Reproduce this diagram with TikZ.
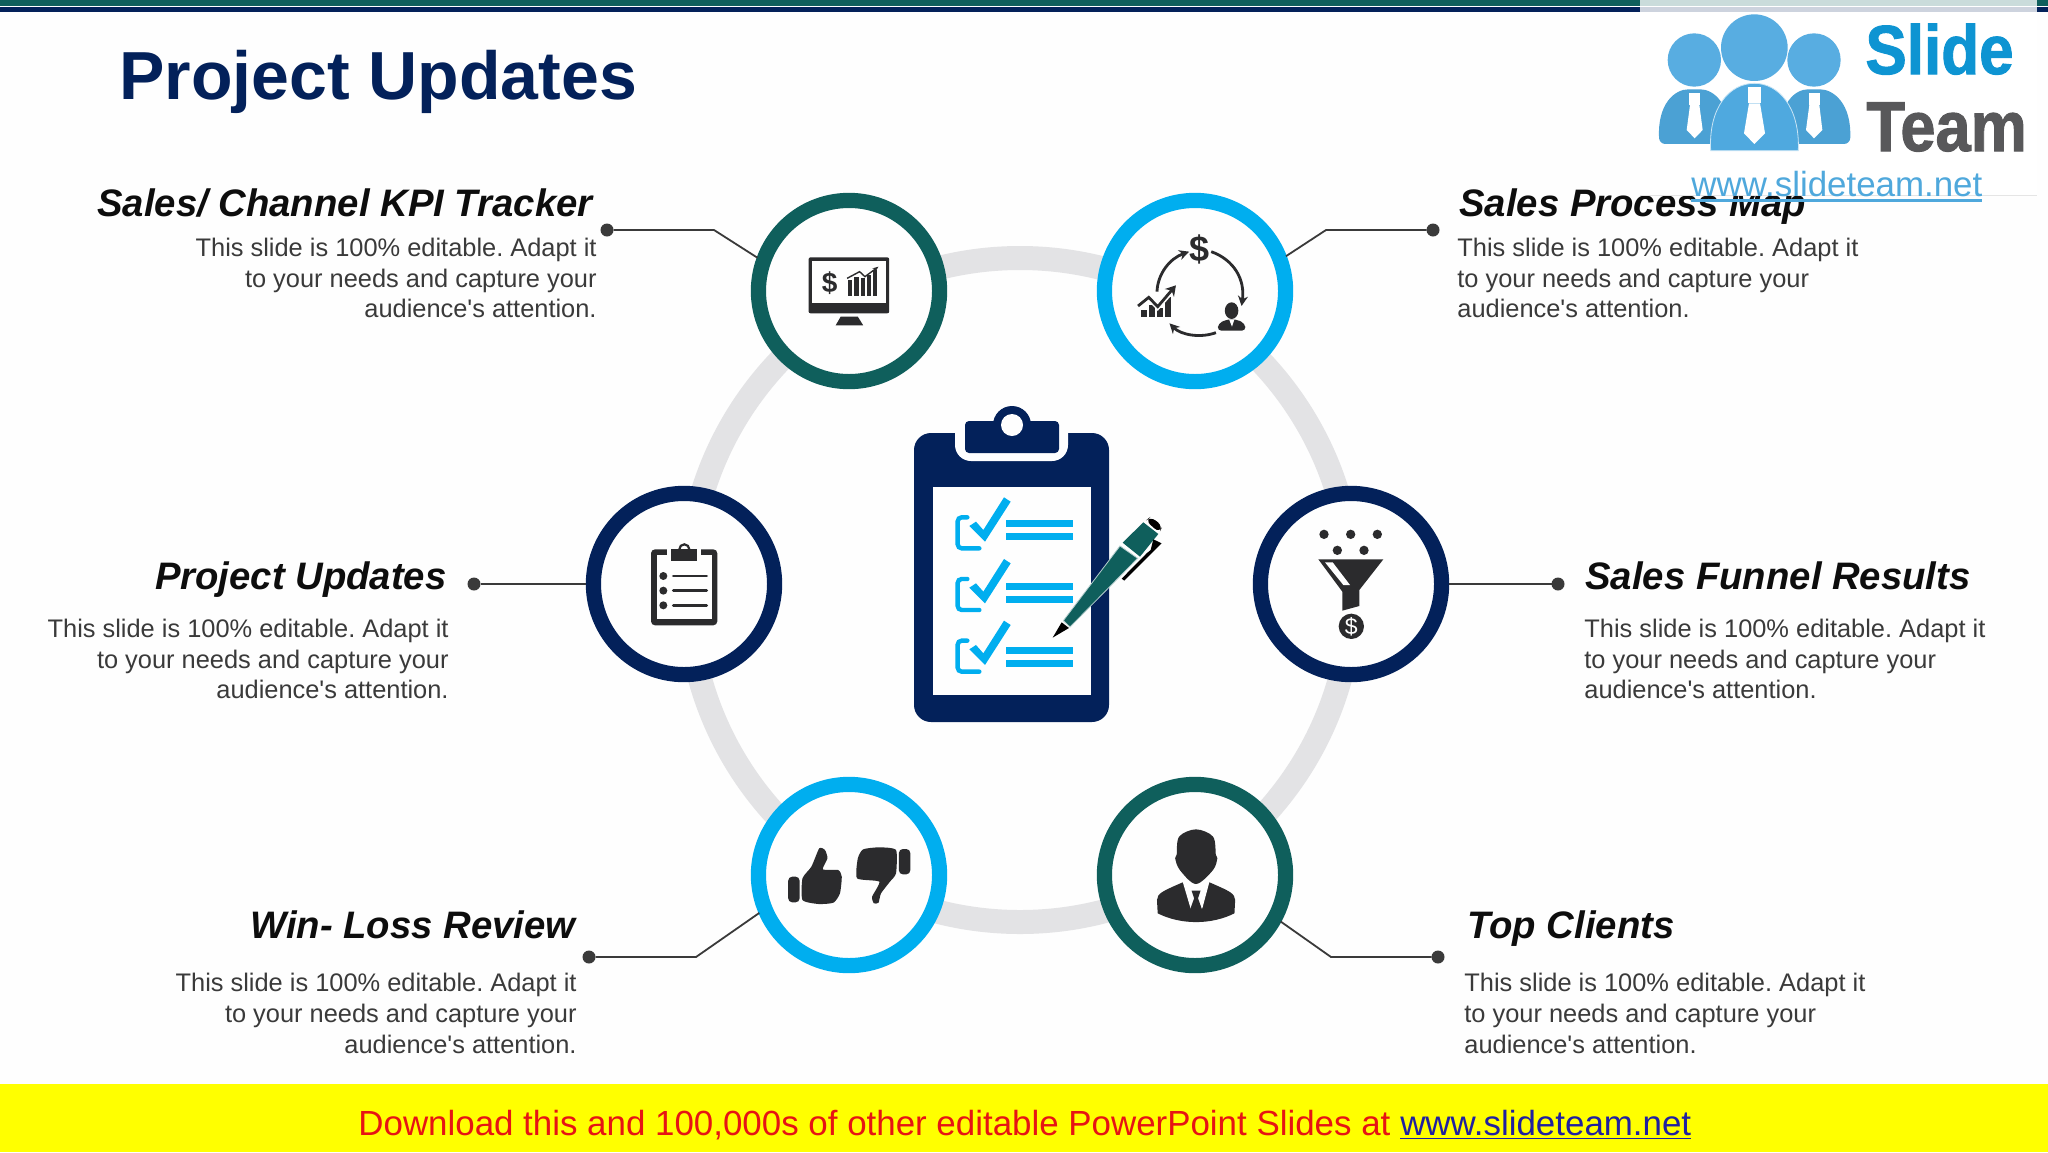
\documentclass[tikz,border=0pt]{standalone}
\usepackage{graphicx}
\usepackage{fontspec}
\setmainfont{Liberation Sans}
\newfontfamily\bodyf{Liberation Sans}
\usetikzlibrary{arrows.meta}
\definecolor{bgc}{HTML}{FEFEFE}
\definecolor{navy}{HTML}{03215A}
\definecolor{teal}{HTML}{0F5F5C}
\definecolor{cyan}{HTML}{00AEEF}
\definecolor{ringc}{HTML}{E3E3E5}
\definecolor{icon}{HTML}{2B2B2D}
\definecolor{bodyc}{HTML}{3A3A3A}
\definecolor{lgb}{HTML}{4FA9DF}
\definecolor{lgt}{HTML}{4FA8DC}
\definecolor{banner}{HTML}{FFFF00}
\tikzset{
  ringnode/.style={circle,draw=#1,fill=bgc,line width=7.6pt,minimum size=90.6pt,inner sep=0pt,outer sep=0pt},
  dotnode/.style={circle,fill=bodyc,minimum size=6.5pt,inner sep=0pt,outer sep=0pt},
  leader/.style={draw=bodyc,line width=0.9pt,shorten >=3.5pt},
  headr/.style={font=\fontsize{19.15}{23}\bfseries\itshape\selectfont,text=black!95,inner sep=0pt,anchor=base east},
  headl/.style={font=\fontsize{19.15}{23}\bfseries\itshape\selectfont,text=black!95,inner sep=0pt,anchor=base west},
  bodyr/.style={font=\bodyf\fontsize{12.7}{15.45}\selectfont\frenchspacing,text=bodyc,inner sep=0pt,align=right,anchor=east},
  bodyl/.style={font=\bodyf\fontsize{12.7}{15.45}\selectfont\frenchspacing,text=bodyc,inner sep=0pt,align=left,anchor=west},
  wide/.style={shift={#1},xscale=0.357,yscale=0.3333},
  even/.style={shift={#1},scale=0.3333},
}
\begin{document}
\begin{tikzpicture}[x=0.5pt,y=-0.5pt]
\useasboundingbox (0,0) rectangle (2048,1152);
\fill[bgc] (0,0) rectangle (2048,1152);
% top bar
\fill[teal] (0,0) rectangle (2048,6);
\fill[navy] (0,7) rectangle (2048,12);
% yellow band
\fill[banner] (0,1084) rectangle (2048,1152);
\node[anchor=base west,inner sep=0pt,font=\fontsize{17.45}{20}\selectfont\frenchspacing,text={rgb,255:red,230;green,20;blue,20}] (dl) at (358,1135)
  {Download this and 100,000s of other editable PowerPoint Slides at \textcolor[HTML]{2020A0}{\underline{www.slideteam.net}}};
% title
\node[anchor=base west,inner sep=0pt,font=\fontsize{34}{40}\bfseries\selectfont,text=navy] (title) at (119,99.5) {Project Updates};
% big ring
\draw[ringc,line width=12pt] (1020,590) circle (332);
% right/left texts
\node[headr] (h1) at (593,216) {Sales/ Channel KPI Tracker};
\node[bodyr] (b1) at (597,278) {This slide is 100\% editable. Adapt it\\to your needs and capture your\\audience's attention.};
\node[headl] (h2) at (1459,216) {Sales Process Map};
\node[bodyl] (b2) at (1457,278) {This slide is 100\% editable. Adapt it\\to your needs and capture your\\audience's attention.};
\node[headr] (h3) at (447,589) {Project Updates};
\node[bodyr] (b3) at (449,659) {This slide is 100\% editable. Adapt it\\to your needs and capture your\\audience's attention.};
\node[headl] (h4) at (1585,589) {Sales Funnel Results};
\node[bodyl] (b4) at (1584,659) {This slide is 100\% editable. Adapt it\\to your needs and capture your\\audience's attention.};
\node[headr] (h5) at (576,938) {Win- Loss Review};
\node[bodyr] (b5) at (577,1013) {This slide is 100\% editable. Adapt it\\to your needs and capture your\\audience's attention.};
\node[headl] (h6) at (1467,938) {Top Clients};
\node[bodyl] (b6) at (1464,1013) {This slide is 100\% editable. Adapt it\\to your needs and capture your\\audience's attention.};
% circles
\node[ringnode=teal] (tl) at (849,291) {};
\node[ringnode=cyan] (tr) at (1195,291) {};
\node[ringnode=navy] (ml) at (684,584) {};
\node[ringnode=navy] (mr) at (1351,584) {};
\node[ringnode=cyan] (bl) at (849,875) {};
\node[ringnode=teal] (br) at (1195,875) {};
% dots, leaders
\node[dotnode] (d1) at (607,230) {};
\node[dotnode] (d2) at (1433,230) {};
\node[dotnode] (d3) at (474,584) {};
\node[dotnode] (d4) at (1558,584) {};
\node[dotnode] (d5) at (589,957) {};
\node[dotnode] (d6) at (1438,957) {};
\coordinate (e1) at (714,230);
\coordinate (e2) at (1326,230);
\coordinate (e5) at (696,957);
\coordinate (e6) at (1331,957);
\path[leader] (d1) -- (e1) -- (tl.161);
\path[leader] (d2) -- (e2) -- (tr.20);
\path[leader] (d3) -- (ml);
\path[leader] (d4) -- (mr);
\path[leader] (d5) -- (e5) -- (bl.202);
\path[leader] (d6) -- (e6) -- (br.332);
% central clipboard
\fill[navy,rounded corners=8.5pt] (914,433) rectangle (1109,722);
\fill[bgc,rounded corners=8pt] (955,405) rectangle (1068,461);
\fill[navy,rounded corners=2pt] (965,421) rectangle (1059,453);
\fill[navy] (1012,425) circle (19);
\fill[bgc] (1012,425) circle (11);
\fill[bgc] (933,487) rectangle (1091,695);
\begin{scope}[even={(880,390)}]
\foreach \dy/\ly in {0/0,185/189,370/381}{
  \draw[cyan,line width=2.2pt,line cap=round,rounded corners=2pt] (262,382+\dy) -- (233,382+\dy) -- (233,475+\dy) -- (298,475+\dy);
  \fill[cyan] (268,408+\dy) -- (288,395+\dy) -- (310,420+\dy) -- (372,322+\dy) -- (392,335+\dy) -- (315,455+\dy) -- cycle;
  \fill[cyan] (378,390+\ly) rectangle (578,410+\ly);
  \fill[cyan] (378,430+\ly) rectangle (578,450+\ly);
}
\fill[black] (518,743) -- (545,697) -- (567,714) -- cycle;
\draw[bgc!70!teal,line width=0.4pt,fill=teal] (550,692) -- (570,711) -- (773,505) -- (720,468) -- cycle;
\fill[teal] (728,458) -- (780,500) -- (835,432) -- (790,397) -- cycle;
\fill[black,rounded corners=3pt] (797,392) -- (812,380) -- (848,408) -- (838,428) -- cycle;
\fill[black] (820,448) -- (845,460) -- (733,572) -- (725,566) -- (800,490) -- (812,480) -- cycle;
\end{scope}
% icon: monitor
\begin{scope}[wide={(740,180)}]
\fill[icon,rounded corners=1pt] (192,232) rectangle (418,400);
\fill[bgc] (202,243) rectangle (410,370);
\fill[icon] (282,410) -- (330,410) -- (345,436) -- (268,436) -- cycle;
\node[inner sep=0pt,font=\fontsize{14}{16}\bfseries\selectfont,text=icon] (mon) at (251,310) {\$};
\foreach \xa/\ya in {302/300,320/290,338/295,356/285,372/270}{\fill[icon] (\xa,\ya) rectangle (\xa+12,348);}
\draw[icon,line width=0.7pt,-{Stealth[length=3pt]}] (300,295) -- (335,275) -- (350,290) -- (388,260);
\end{scope}
% icon: process
\begin{scope}[wide={(740,180)}]
\node[inner sep=0pt,font=\fontsize{18}{20}\bfseries\selectfont,text=icon] (pdollar) at (1287,208) {\$};
\draw[icon,line width=1.4pt,-{Stealth[length=5pt,width=5pt]}] (1320,215) .. controls (1385,240) and (1415,300) .. (1405,378);
\draw[icon,line width=1.4pt,-{Stealth[length=5pt,width=5pt]}] (1333,458) .. controls (1290,475) and (1235,465) .. (1203,430);
\draw[icon,line width=1.4pt,-{Stealth[length=5pt,width=5pt]}] (1168,335) .. controls (1170,280) and (1205,235) .. (1258,215);
\foreach \xa/\ya in {1122/390,1145/375,1168/385,1190/350}{\fill[icon] (\xa,\ya) rectangle (\xa+18,412);}
\draw[bgc,line width=1.5pt] (1115,382) -- (1145,358) -- (1170,386) -- (1218,328);
\draw[icon,line width=1.4pt,-{Stealth[length=5pt,width=6pt]}] (1115,378) -- (1145,352) -- (1170,380) -- (1221,316);
\fill[icon] (1377,392) ellipse (19 and 25);
\fill[icon,rounded corners=2pt] (1337,452) -- (1340,430) -- (1365,418) -- (1390,418) -- (1414,430) -- (1417,452) -- cycle;
\fill[bgc] (1370,418) -- (1385,418) -- (1378,440) -- cycle;
\end{scope}
% icon: clipboard
\begin{scope}[even={(580,480)}]
\fill[icon,rounded corners=2pt] (213,208) rectangle (412,436);
\fill[bgc] (230,226) rectangle (396,418);
\fill[bgc] (262,205) rectangle (362,226);
\fill[icon] (273,208) rectangle (352,242);
\draw[icon,line width=1.1pt] (298,208) arc (180:360:15);
\foreach \ya in {288,332,376}{
  \fill[icon] (250,\ya) circle (12);
  \draw[icon,line width=1.4pt,line cap=round] (280,\ya) -- (380,\ya);
}
\end{scope}
% icon: funnel
\begin{scope}[even={(1240,480)}]
\foreach \xa/\ya in {252/163,332/163,412/163,292/211,372/211}{\fill[icon] (\xa,\ya) circle (14);}
\fill[icon] (235,238) -- (430,238) -- (358,330) -- (358,378) -- (307,392) -- (307,335) -- cycle;
\fill[bgc] (255,247) -- (278,247) -- (330,315) -- (310,315) -- cycle;
\fill[icon] (334,439) circle (38);
\node[inner sep=0pt,font=\fontsize{11.5}{13}\selectfont,text=white] (fd) at (334,439) {\$};
\end{scope}
% icon: thumbs
\begin{scope}[wide={(740,770)}]
\fill[icon,rounded corners=2pt] (135,320) rectangle (167,397);
\fill[icon] plot[smooth cycle,tension=0.35] coordinates {(175,325) (200,290) (222,235) (238,240) (245,265) (232,298) (275,300) (285,320) (280,370) (262,398) (220,402) (175,390)};
\fill[icon,rounded corners=2pt] (445,237) rectangle (477,313);
\fill[icon] plot[smooth cycle,tension=0.35] coordinates {(437,240) (390,232) (345,238) (330,265) (328,325) (390,335) (370,380) (375,400) (388,398) (395,370) (420,335) (437,310)};
\end{scope}
% icon: person
\begin{scope}[wide={(740,770)}]
\fill[icon] (1170,430) -- (1168,390) .. controls (1170,370) and (1180,365) .. (1240,337) -- (1315,337) .. controls (1375,365) and (1385,370) .. (1387,390) -- (1385,430) .. controls (1320,465) and (1235,465) .. (1170,430) -- cycle;
\fill[bgc] (1240,335) -- (1262,415) -- (1295,415) -- (1315,335) -- cycle;
\fill[icon] (1265,362) -- (1290,362) -- (1283,385) -- (1293,415) -- (1277,425) -- (1262,415) -- (1272,385) -- cycle;
\fill[icon] plot[smooth cycle,tension=0.55] coordinates {(1277,178) (1325,200) (1333,255) (1337,265) (1325,300) (1277,342) (1232,300) (1219,265) (1223,255) (1230,200)};
\end{scope}
% logo box over the heading
\fill[white] (1640,0) rectangle (2037,195);
\fill[teal!22] (1640,0) rectangle (2037,6);
\fill[navy!20] (1640,7) rectangle (2037,12);
\draw[black!10,line width=0.4pt] (1640,195) -- (2037,195);
\begin{scope}[even={(1600,0)}]
\fill[lgb!95!black,rounded corners=3pt] (178,432) .. controls (172,310) and (225,268) .. (283,268) .. controls (340,268) and (392,310) .. (388,432) -- cycle;
\fill[lgb!95!black,rounded corners=3pt] (540,432) .. controls (536,310) and (585,268) .. (642,268) .. controls (700,268) and (755,310) .. (750,432) -- cycle;
\draw[white!70!lgb,line width=0.4pt,fill=lgb] (332,452) .. controls (325,320) and (390,250) .. (463,250) .. controls (535,250) and (600,320) .. (595,452) -- cycle;
\fill[lgb!95!white] (283,180) circle (80);
\fill[lgb!95!white] (642,180) circle (80);
\fill[lgb!95!white] (463,143) circle (100);
\fill[white] (268,278) rectangle (300,315);
\fill[white] (270,315) -- (298,315) -- (308,390) -- (284,415) -- (260,390) -- cycle;
\fill[white] (443,262) rectangle (483,310);
\fill[white] (447,310) -- (480,310) -- (495,400) -- (463,432) -- (432,400) -- cycle;
\fill[white] (627,278) rectangle (660,315);
\fill[white] (628,315) -- (658,315) -- (667,390) -- (642,415) -- (618,390) -- cycle;
\end{scope}
\node[anchor=base west,inner sep=0pt,font=\fontsize{31}{36}\bfseries\selectfont\addfontfeature{FakeBold=1.5},text={rgb,255:red,14;green,148;blue,210}] (slide) at (1865,74) {\scalebox{1}[1.12]{Slide}};
\node[anchor=base west,inner sep=0pt,font=\fontsize{31.6}{36}\bfseries\selectfont\addfontfeature{FakeBold=1.5},text={rgb,255:red,88;green,88;blue,90}] (team) at (1866,151) {\scalebox{1}[1.12]{Team}};
\node[anchor=base west,inner sep=0pt,font=\fontsize{17.45}{20}\selectfont,text=lgt] (url) at (1691,196) {www.slideteam.net};
\fill[lgt] (1691,199) rectangle (1982,202);
\end{tikzpicture}
\end{document}
